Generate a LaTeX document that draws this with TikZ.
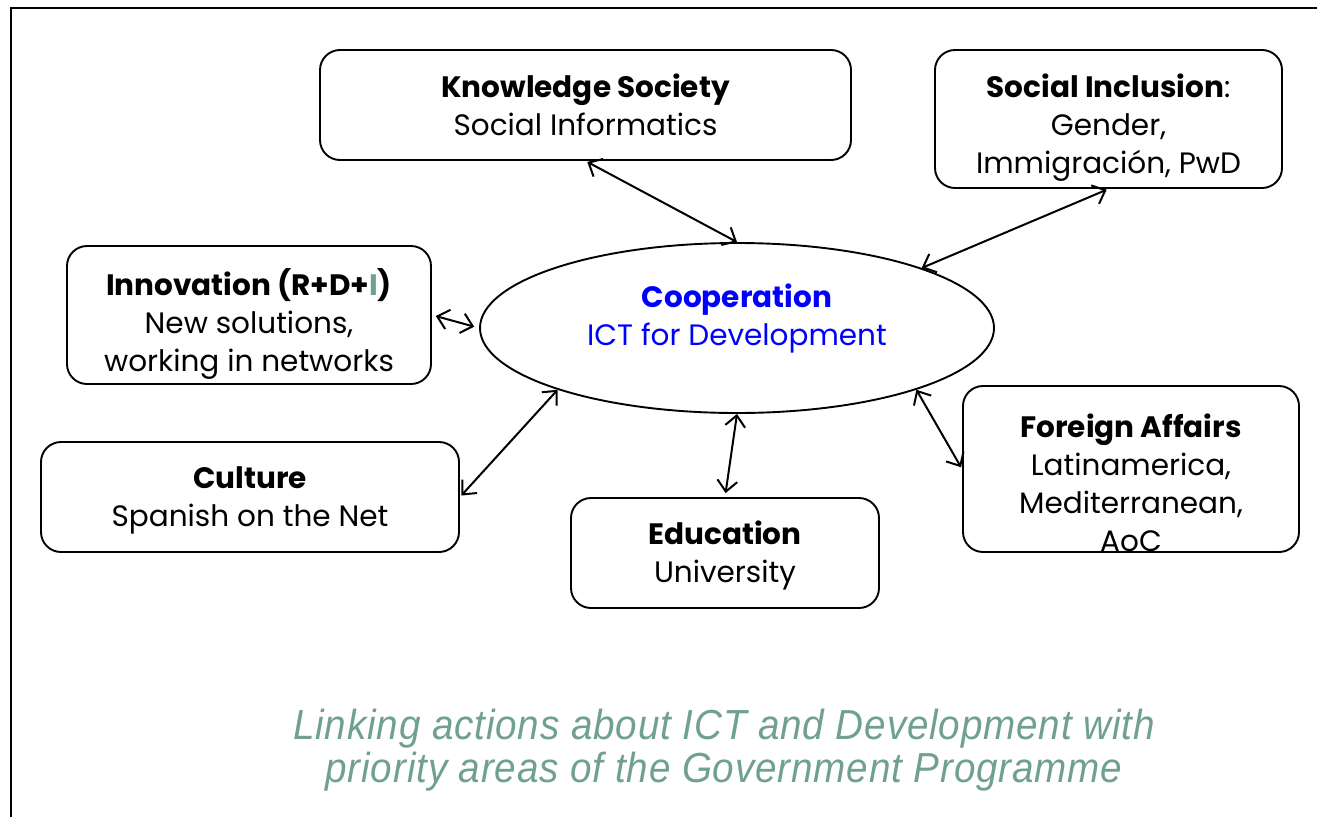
\documentclass[tikz,border=0pt]{standalone}
\usepackage{fontspec}
\setmainfont{Poppins}
\newfontfamily\captionfont[FakeStretch=0.92,LetterSpace=2]{Liberation Sans}
\usetikzlibrary{arrows.meta,shapes.geometric}

\definecolor{coopblue}{RGB}{0,0,255}
\definecolor{sage}{RGB}{112,160,142}

\tikzset{
  area/.style={draw, line width=1.9pt, rounded corners=20pt, inner sep=0pt},
  lbl/.style={align=center, font=\fontsize{29.5}{38}\selectfont, inner sep=0pt},
  link/.style={line width=2pt, {Straight Barb[length=11pt,width=20pt]}-{Straight Barb[length=11pt,width=20pt]}},
}

\begin{document}
\begin{tikzpicture}[x=1pt,y=-1pt]
  \useasboundingbox (0,0) rectangle (1317,817);

  % outer frame (left and top edges)
  \draw[line width=2.4pt] (11,817) -- (11,8) -- (1317,8);

  % central ellipse
  \node[draw, ellipse, line width=1.9pt, minimum width=514pt, minimum height=170pt, inner sep=0pt] (ell) at (737,328) {};
  \node[lbl, text=coopblue] (ell-t) at (737,319) {\textbf{Cooperation}\\ICT for Development};

  % surrounding areas
  \node[area, minimum width=531pt, minimum height=110pt] (ks) at (585.5,105) {};
  \node[lbl] (ks-t) at (585.5,105) {\textbf{Knowledge Society}\\Social Informatics};

  \node[area, minimum width=347pt, minimum height=138pt] (si) at (1108.5,119) {};
  \node[lbl] (si-t) at (1108.5,128) {\textbf{Social Inclusion}:\\Gender,\\Immigración, PwD};

  \node[area, minimum width=364pt, minimum height=138pt] (inn) at (249,315) {};
  \node[lbl] (inn-t) at (249,324) {\textbf{Innovation (R+D+\textcolor{sage}{I})}\\New solutions,\\working in networks};

  \node[area, minimum width=418pt, minimum height=110pt] (cu) at (250,497) {};
  \node[lbl] (cu-t) at (250,500) {\textbf{Culture}\\Spanish on the Net};

  \node[area, minimum width=308pt, minimum height=110pt] (edu) at (725,553) {};
  \node[lbl] (edu-t) at (725,555) {\textbf{Education}\\University};

  \node[area, minimum width=336pt, minimum height=166pt] (fa) at (1131,469) {};
  \node[lbl] (fa-t) at (1131,483) {\textbf{Foreign Affairs}\\Latinamerica,\\Mediterranean,\\AoC};

  % links between the central theme and each area
  \draw[link, shorten <=2pt] (ks.south) -- (ell.north);
  \draw[link, shorten <=2pt] (si.south) -- (ell.18);
  \draw[link, shorten <=4pt, shorten >=5pt] (inn.east) -- (ell.west);
  \draw[link, shorten <=2pt] (cu.east) -- (ell.199);
  \draw[link, shorten >=4pt] (ell.south) -- (edu.north);
  \draw[link, shorten >=2pt] (ell.341) -- (fa.west);

  % caption
  \node[align=center, text=sage, inner sep=0pt, font=\captionfont\itshape\fontsize{42}{43}\selectfont] (cap) at (724,750)
    {Linking actions about ICT and Development with\\priority areas of the Government Programme};
\end{tikzpicture}
\end{document}
